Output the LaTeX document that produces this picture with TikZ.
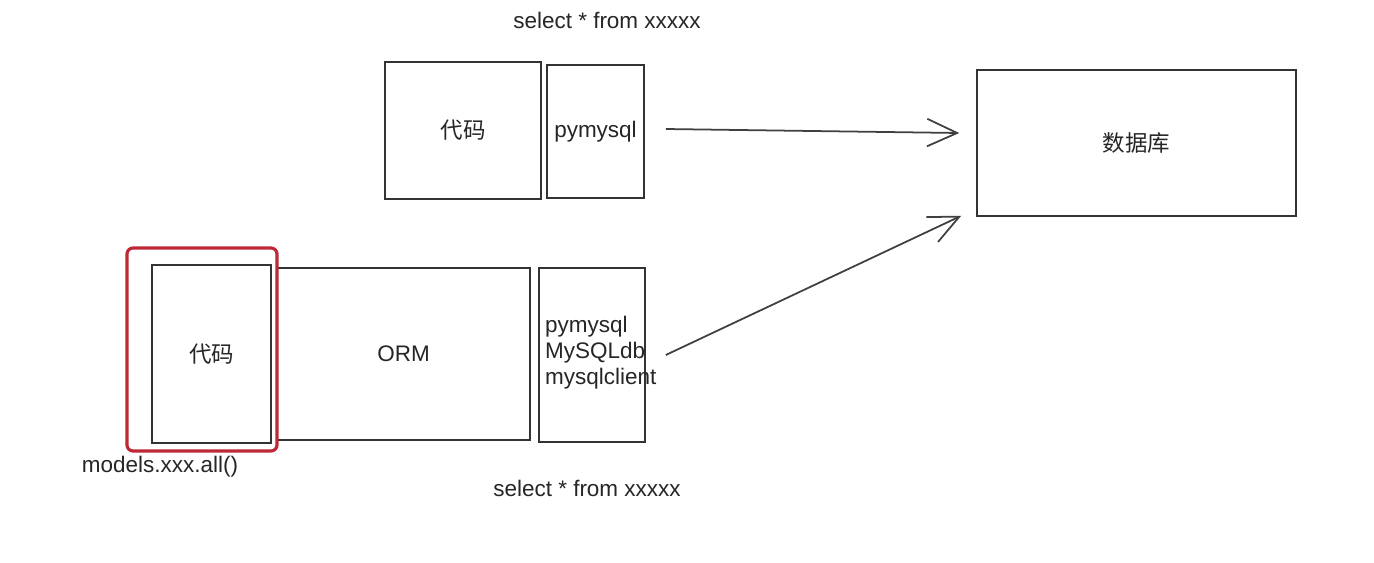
\documentclass[tikz,border=0pt]{standalone}
\usepackage{fontspec}
\setmainfont{Liberation Sans}
\newfontfamily\cjk{Noto Sans CJK SC}
\usetikzlibrary{arrows.meta}

\begin{document}
\begin{tikzpicture}[x=0.02cm,y=-0.02cm,
    box/.style={draw=black!80,line width=0.9pt,inner sep=0pt},
    txt/.style={font=\fontsize{12.8}{14.8}\selectfont,text=black!85},
    link/.style={draw=black!75,line width=1pt,-{Straight Barb[length=0.6cm,width=0.55cm]}},
    hilite/.style={draw=ormred,line width=1.8pt,rounded corners=0.12cm}]
    \definecolor{ormred}{RGB}{190,40,55}
    \fill[white] (0,0) rectangle (1374,562);
    \useasboundingbox (0,0) rectangle (1374,562);

    % top row
    \node[box,txt,minimum width=3.12cm,minimum height=2.74cm] (codea) at (463,130.5) {\cjk 代码};
    \node[box,txt,minimum width=1.94cm,minimum height=2.66cm] (pya) at (595.5,131.5) {pymysql};
    \node[box,txt,minimum width=6.38cm,minimum height=2.92cm] (db) at (1136.5,143) {\cjk 数据库};
    \node[txt] (sqla) at (607,20) {select * from xxxxx};

    % bottom row
    \node[box,txt,minimum width=2.38cm,minimum height=3.56cm] (codeb) at (211.5,354) {\cjk 代码};
    \node[box,txt,minimum width=5.06cm,minimum height=3.44cm] (orm) at (403.5,354) {ORM};
    \node[box,minimum width=2.12cm,minimum height=3.48cm] (client) at (592,355) {};
    \node[txt,anchor=west,align=left] (drivers) at (539,353) {pymysql\\MySQLdb\\mysqlclient};
    \node[txt] (sqlb) at (587,488) {select * from xxxxx};
    \node[txt] (call) at (160,467) {models.xxx.all()};

    \draw[hilite] (127,248) rectangle (277,451);

    % arrows
    \draw[link] ([xshift=0.42cm,yshift=0.05cm]pya.east) -- ([xshift=-0.34cm,yshift=0.2cm]db.west);
    \draw[link] ([xshift=0.4cm]client.east) -- ([xshift=-0.3cm,yshift=0.02cm]db.south west);
\end{tikzpicture}
\end{document}
